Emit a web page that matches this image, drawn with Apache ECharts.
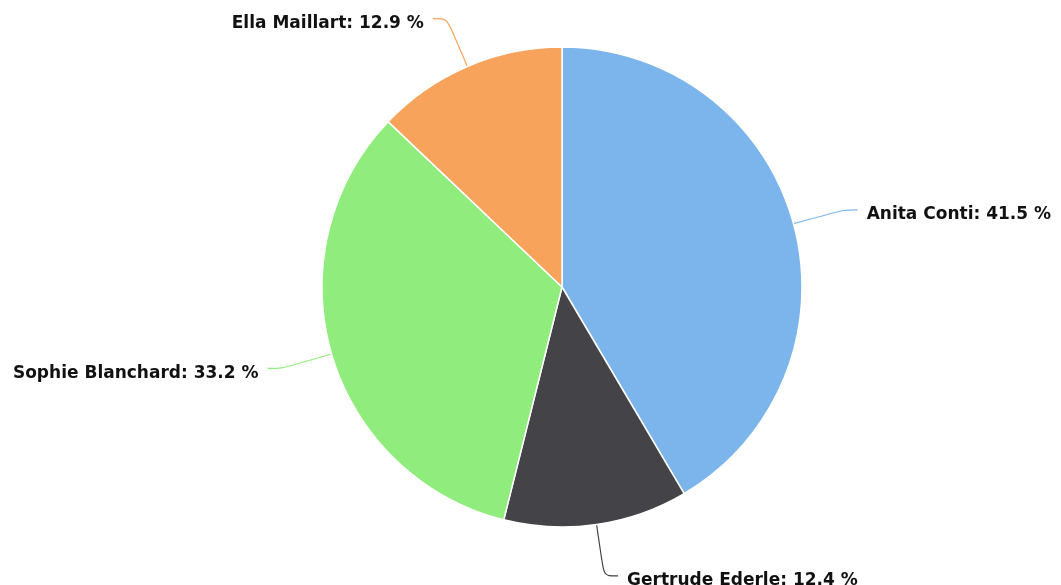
<!DOCTYPE html>
<html>
<head>
<meta charset="utf-8">
<script src="https://cdn.jsdelivr.net/npm/echarts@6/dist/echarts.min.js"></script>
<style>
html,body{margin:0;padding:0;background:#fff;}
#main{width:1061px;height:585px;}
</style>
</head>
<body>
<div id="main"></div>
<script>
var names = ['Anita Conti', 'Gertrude Ederle', 'Sophie Blanchard', 'Ella Maillart'];
var shares = [41.5, 12.4, 33.2, 12.9];
var colors = ['#7cb5ec', '#434348', '#90ed7d', '#f7a35c'];

var chart = echarts.init(document.getElementById('main'));
chart.setOption({
  animation: false,
  color: colors,
  series: [{
    type: 'pie',
    center: [562, 287],
    radius: [0, 240],
    startAngle: 90,
    clockwise: true,
    percentPrecision: 1,
    avoidLabelOverlap: false,
    itemStyle: { borderColor: '#ffffff', borderWidth: 1.5 },
    label: {
      show: true,
      position: 'outside',
      formatter: '{t|{b}: {d} %}',
      distanceToLabelLine: 9,
      rich: {
        t: {
          color: '#111111',
          fontFamily: 'DejaVu Sans',
          fontWeight: 'bold',
          fontSize: 17,
          padding: [10, 0, 0, 0]
        }
      }
    },
    labelLine: {
      show: true,
      length: 52,
      length2: 14,
      smooth: 0.3,
      lineStyle: { width: 1.2 }
    },
    emphasis: { disabled: true },
    data: names.map(function (n, i) { return { name: n, value: shares[i] }; })
  }]
});
</script>
</body>
</html>
